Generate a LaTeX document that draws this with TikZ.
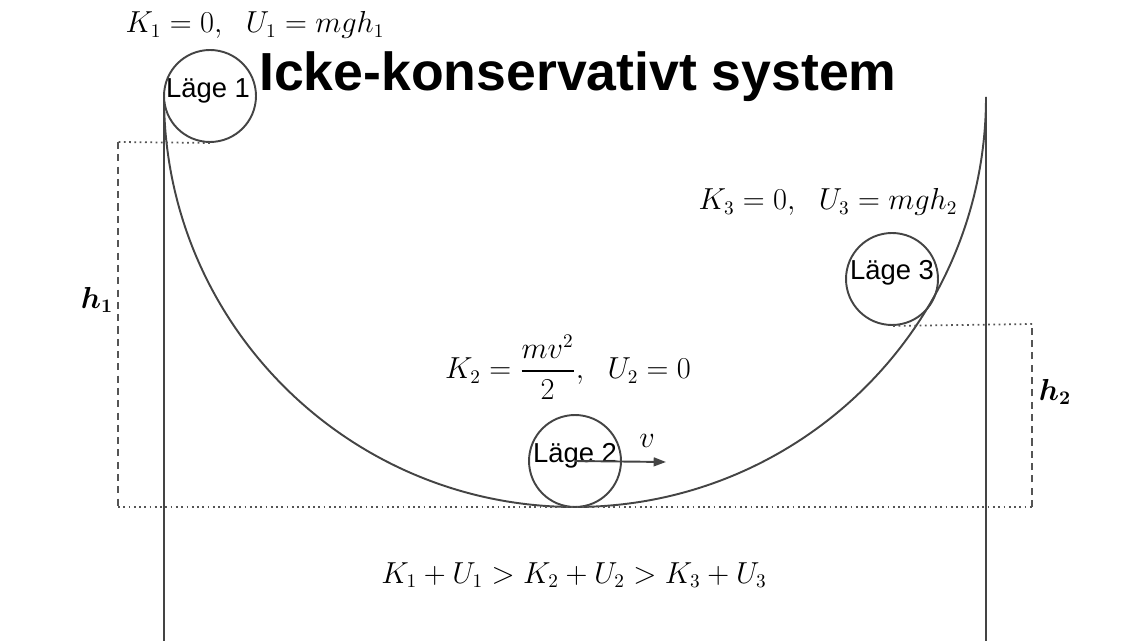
\documentclass[tikz,border=0pt]{standalone}
\usepackage{amsmath}
\usepackage{bm}
\usepackage{xcolor}
\usepackage{fontspec}
\newfontfamily\arialfont{Liberation Sans}
\usepackage{tikz}
\usetikzlibrary{arrows.meta, positioning}
\definecolor{linegray}{HTML}{444444}
\definecolor{dotgray}{HTML}{555555}

\begin{document}
\begin{tikzpicture}[
      x=0.02cm, y=-0.02cm,
      track/.style={draw=linegray, line width=1.1pt},
      ball/.style={circle, draw=linegray, line width=1.1pt, minimum size=1.84cm, inner sep=0pt},
      balltext/.style={anchor=base, inner sep=0pt, font=\arialfont\fontsize{15.6}{18}\selectfont},
      dotline/.style={draw=dotgray, line width=1pt, dash pattern=on 1pt off 2pt},
      dashline/.style={draw=dotgray, line width=0.9pt, dash pattern=on 4pt off 3pt},
      eq/.style={font=\fontsize{16.2}{20}\selectfont, inner sep=0pt}
    ]
      \useasboundingbox (0,0) rectangle (1132,641);

      \coordinate (bottomL) at (164,641);
      \coordinate (topL) at (164,97);
      \coordinate (topR) at (986,97);
      \coordinate (bottomR) at (986,641);
      \draw[track] (bottomL) -- (topL) arc[start angle=180, end angle=0, x radius=411, y radius=410];
      \draw[track] (topR) -- (bottomR);

      \node[ball] (lage1) at (210,96) {};
      \node[ball] (lage2) at (575,461) {};
      \node[ball] (lage3) at (892,279) {};
      \node[balltext] (lage1text) at ([xshift=-0.04cm, yshift=-0.03cm]lage1.center) {Läge 1};
      \node[balltext] (lage2text) at ([yshift=-0.02cm]lage2.center) {Läge 2};
      \node[balltext] (lage3text) at ([yshift=-0.02cm]lage3.center) {Läge 3};

      \coordinate (h1top) at (118,142);
      \coordinate (h1bot) at (118,507);
      \coordinate (h2top) at (1032,324);
      \coordinate (h2bot) at (1032,507);
      \draw[dotline] (lage1.south) -- (h1top);
      \draw[dashline] (h1top) -- (h1bot);
      \draw[dotline] (h1bot) -- (h2bot);
      \draw[dashline] (h2bot) -- (h2top);
      \draw[dotline] (h2top) -- (lage3.south);

      \coordinate (vtip) at (666,462);
      \draw[draw=linegray, line width=1.1pt, -{Triangle[length=7pt, width=5pt]}] (lage2.center) -- (vtip);
      \node[eq] (vlabel) at (647,441) {$v$};

      \node[eq] (h1) at (97,300) {$\bm{h_1}$};
      \node[eq] (h2) at (1055,392) {$\bm{h_2}$};

      \node[font=\arialfont\bfseries\fontsize{30.5}{34}\selectfont, inner sep=0pt] (title) at (578,77) {Icke-konservativt system};

      \node[eq] (state1) at (255,25) {$K_1=0,\hspace{0.65em}U_1=mgh_1$};
      \node[eq] (state3) at (828,202) {$K_3=0,\hspace{0.65em}U_3=mgh_2$};
      \node[eq] (state2) at (568,367) {$K_2=\dfrac{mv^2}{2},\hspace{0.65em}U_2=0$};
      \node[eq] (balance) at (574,575) {$K_1+U_1>K_2+U_2>K_3+U_3$};
    \end{tikzpicture}
\end{document}
